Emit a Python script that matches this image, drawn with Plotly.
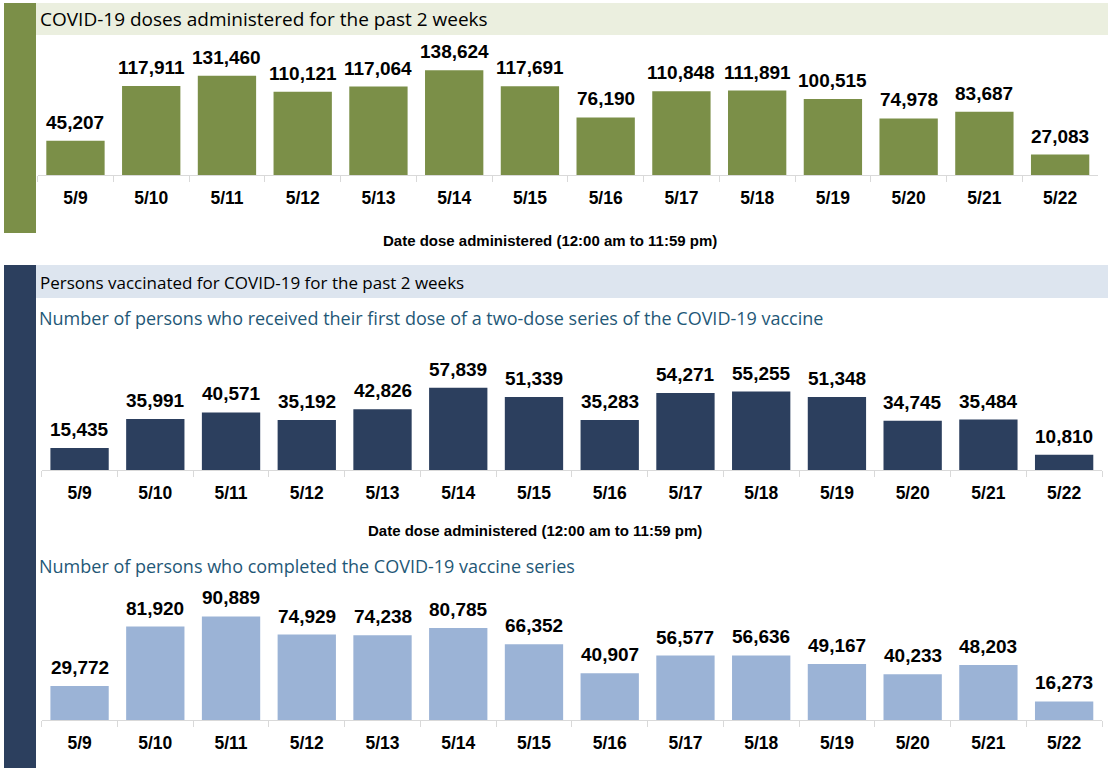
import plotly.graph_objects as go

dates = ["5/9", "5/10", "5/11", "5/12", "5/13", "5/14", "5/15", "5/16", "5/17", "5/18", "5/19", "5/20", "5/21", "5/22"]
doses = [45207, 117911, 131460, 110121, 117064, 138624, 117691, 76190, 110848, 111891, 100515, 74978, 83687, 27083]
first_dose = [15435, 35991, 40571, 35192, 42826, 57839, 51339, 35283, 54271, 55255, 51348, 34745, 35484, 10810]
completed = [29772, 81920, 90889, 74929, 74238, 80785, 66352, 40907, 56577, 56636, 49167, 40233, 48203, 16273]

header1 = "COVID-19 doses administered for the past 2 weeks"
header2 = "Persons vaccinated for COVID-19 for the past 2 weeks"
sub1 = "Number of persons who received their first dose of a two-dose series of the COVID-19 vaccine"
sub2 = "Number of persons who completed the COVID-19 vaccine series"
axis_title = "Date dose administered (12:00 am to 11:59 pm)"

W, H = 1108, 768
GREEN = "#7b8f48"
NAVY = "#2c3f5e"
LIGHTBLUE = "#9bb3d6"

def px(x):
    return x / W

def py(y):
    return 1 - y / H

fig = go.Figure()

charts = [
    # values, color, xaxis px range, baseline px, top px, yrange max, axis id
    (doses, GREEN, (37.6, 1098), 175, 50, 165563, ""),
    (first_dose, NAVY, (41.7, 1102), 470, 350, 84507, "2"),
    (completed, LIGHTBLUE, (41.7, 1102), 720, 595, 109649, "3"),
]

value_font = dict(family="Liberation Sans, Arial, sans-serif", size=19, color="#000000", weight="bold")
annotations = []

for vals, color, (x0, x1), base, top, ymax, ax in charts:
    fig.add_trace(go.Bar(
        x=dates, y=vals,
        marker=dict(color=color, line=dict(width=0)),
        width=0.77,
        xaxis="x" + ax, yaxis="y" + ax,
        hoverinfo="skip",
        showlegend=False,
    ))
    for d, v in zip(dates, vals):
        annotations.append(dict(
            text=f"{v:,}", x=d, y=v, xref="x" + ax, yref="y" + ax,
            xanchor="center", yanchor="bottom", yshift=6,
            showarrow=False, font=value_font,
        ))
    fig.layout["xaxis" + ax] = dict(
        domain=[px(x0), px(x1)],
        anchor="y" + ax,
        type="category",
        range=[-0.5, 13.5],
        showline=True, linecolor="#d9d9d9", linewidth=1,
        ticks="outside", tickson="boundaries", ticklen=6, tickcolor="#d9d9d9",
        ticklabelstandoff=7,
        tickfont=dict(family="Liberation Sans, Arial, sans-serif", size=17.5, color="#000000", weight="bold"),
        showgrid=False, zeroline=False,
        fixedrange=True,
    )
    fig.layout["yaxis" + ax] = dict(
        domain=[py(base), py(top)],
        anchor="x" + ax,
        range=[0, ymax],
        visible=False,
        showgrid=False, zeroline=False,
        fixedrange=True,
    )

shapes = [
    dict(type="rect", xref="paper", yref="paper", x0=px(4), x1=px(36), y0=py(233), y1=py(3),
         fillcolor=GREEN, line=dict(width=0), layer="below"),
    dict(type="rect", xref="paper", yref="paper", x0=px(4), x1=px(36), y0=py(768), y1=py(265),
         fillcolor=NAVY, line=dict(width=0), layer="below"),
    dict(type="rect", xref="paper", yref="paper", x0=px(36), x1=px(1108), y0=py(35), y1=py(3),
         fillcolor="#ebefdf", line=dict(width=0), layer="below"),
    dict(type="rect", xref="paper", yref="paper", x0=px(36), x1=px(1108), y0=py(298), y1=py(265),
         fillcolor="#dde5ef", line=dict(width=0), layer="below"),
]

head1_font = dict(family="Open Sans, Liberation Sans, Arial, sans-serif", size=19, color="#000000")
head2_font = dict(family="Open Sans, Liberation Sans, Arial, sans-serif", size=17, color="#000000")
sub_font = dict(family="Open Sans, Liberation Sans, Arial, sans-serif", size=18, color="#1f5877")
title_font = dict(family="Liberation Sans, Arial, sans-serif", size=15, color="#000000", weight="bold")

annotations += [
    dict(text=header1, x=px(38), y=py(19), xref="paper", yref="paper", xanchor="left", yanchor="middle",
         showarrow=False, font=head1_font),
    dict(text=header2, x=px(38), y=py(282), xref="paper", yref="paper", xanchor="left", yanchor="middle",
         showarrow=False, font=head2_font),
    dict(text=sub1, x=px(37), y=py(318), xref="paper", yref="paper", xanchor="left", yanchor="middle",
         showarrow=False, font=sub_font),
    dict(text=sub2, x=px(37), y=py(566), xref="paper", yref="paper", xanchor="left", yanchor="middle",
         showarrow=False, font=sub_font),
    dict(text=axis_title, x=px(550), y=py(240), xref="paper", yref="paper", xanchor="center", yanchor="middle",
         showarrow=False, font=title_font),
    dict(text=axis_title, x=px(535), y=py(530), xref="paper", yref="paper", xanchor="center", yanchor="middle",
         showarrow=False, font=title_font),
]

fig.update_layout(
    width=W, height=H,
    margin=dict(l=0, r=0, t=0, b=0),
    paper_bgcolor="#ffffff",
    plot_bgcolor="rgba(0,0,0,0)",
    bargap=0.23,
    shapes=shapes,
    annotations=annotations,
)

fig.write_html(
    "out.html",
    config={"displayModeBar": False},
    post_script="document.body.style.margin='0';document.body.style.overflow='hidden';",
)
